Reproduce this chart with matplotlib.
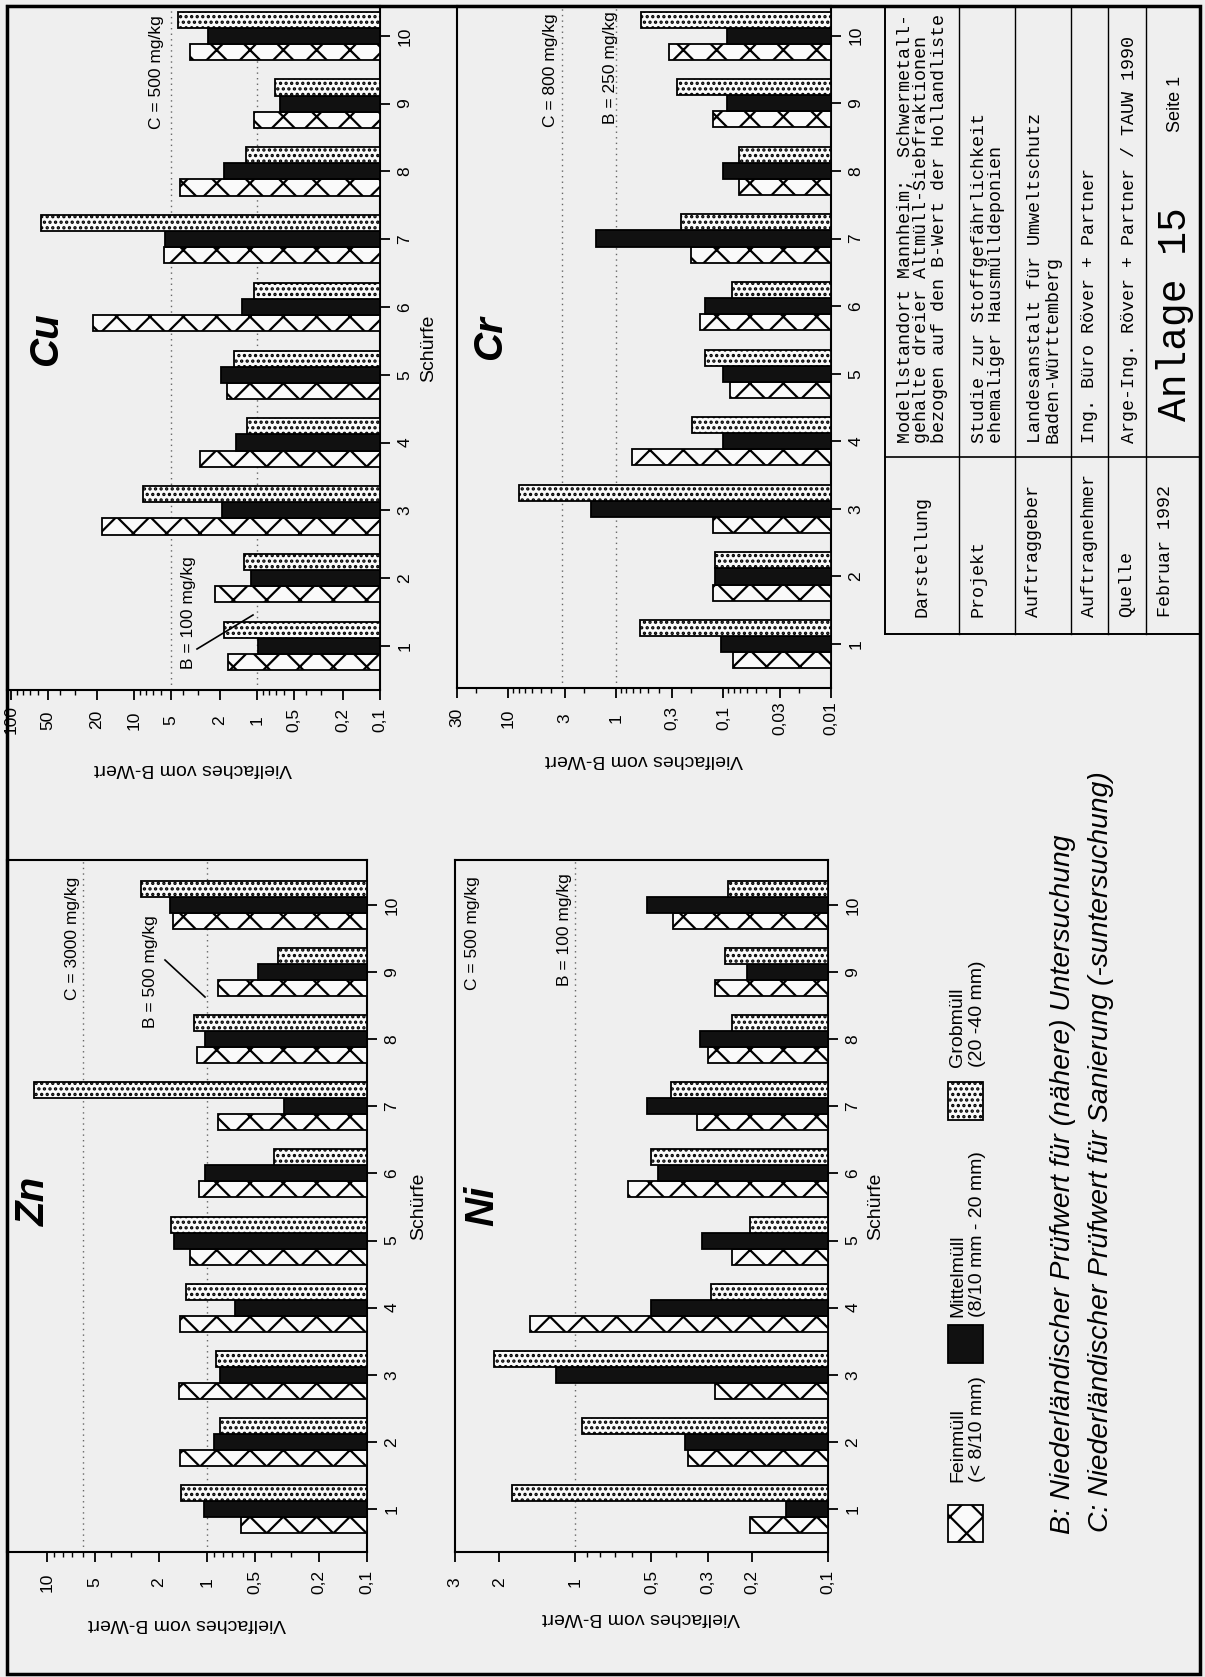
import matplotlib
matplotlib.use("Agg")
import matplotlib.pyplot as plt
import numpy as np
from matplotlib.patches import Rectangle
from matplotlib.lines import Line2D
from matplotlib.ticker import LogLocator, NullFormatter

W, H = 1205, 1677
plt.rcParams['font.family'] = ['Liberation Sans', 'DejaVu Sans']
plt.rcParams['hatch.linewidth'] = 1.6

# ---------------- data (Vielfaches vom B-Wert) ----------------
schuerfe = [1, 2, 3, 4, 5, 6, 7, 8, 9, 10]

zn_fein = [0.61, 1.47, 1.49, 1.47, 1.28, 1.13, 0.86, 1.16, 0.85, 1.64]
zn_mittel = [1.04, 0.90, 0.83, 0.67, 1.61, 1.03, 0.33, 1.03, 0.48, 1.71]
zn_grob = [1.45, 0.83, 0.88, 1.35, 1.68, 0.38, 12.0, 1.21, 0.36, 2.6]

ni_fein = [0.204, 0.36, 0.28, 1.52, 0.24, 0.62, 0.33, 0.30, 0.28, 0.41]
ni_mittel = [0.146, 0.37, 1.19, 0.50, 0.316, 0.47, 0.52, 0.32, 0.21, 0.52]
ni_grob = [1.78, 0.94, 2.11, 0.29, 0.204, 0.50, 0.42, 0.24, 0.256, 0.25]

cu_fein = [1.71, 2.2, 18.4, 2.9, 1.77, 21.6, 5.7, 4.2, 1.05, 3.5]
cu_mittel = [0.98, 1.11, 1.93, 1.48, 1.97, 1.33, 5.6, 1.84, 0.65, 2.5]
cu_grob = [1.84, 1.28, 8.4, 1.21, 1.54, 1.05, 57.0, 1.24, 0.71, 4.4]

cr_fein = [0.082, 0.124, 0.124, 0.71, 0.086, 0.166, 0.20, 0.072, 0.124, 0.32]
cr_mittel = [0.105, 0.119, 1.7, 0.10, 0.10, 0.147, 1.54, 0.10, 0.093, 0.093]
cr_grob = [0.60, 0.119, 7.9, 0.196, 0.147, 0.083, 0.25, 0.072, 0.27, 0.58]

# B- and C-Werte in mg/kg
zn_bc = (500, 3000)
ni_bc = (100, 500)
cu_bc = (100, 500)
cr_bc = (250, 800)

zn_ticks = [10, 5, 2, 1, 0.5, 0.2, 0.1]
ni_ticks = [3, 2, 1, 0.5, 0.3, 0.2, 0.1]
cu_ticks = [100, 50, 20, 10, 5, 2, 1, 0.5, 0.2, 0.1]
cr_ticks = [30, 10, 3, 1, 0.3, 0.1, 0.03, 0.01]

legend_labels = [("Feinmüll", "(< 8/10 mm)"),
                 ("Mittelmüll", "(8/10 mm - 20 mm)"),
                 ("Grobmüll", "(20 -40 mm)")]

table_labels = ["Darstellung", "Projekt", "Auftraggeber", "Auftragnehmer",
                "Quelle", "Februar 1992"]
table_lines = ["Modellstandort Mannheim;  Schwermetall-",
               "gehalte dreier Altmüll-Siebfraktionen",
               "bezogen auf den B-Wert der Hollandliste",
               "Studie zur Stoffgefährlichkeit",
               "ehemaliger Hausmülldeponien",
               "Landesanstalt für Umweltschutz",
               "Baden-Württemberg",
               "Ing. Büro Röver + Partner",
               "Arge-Ing. Röver + Partner / TAUW 1990"]

# ---------------- figure ----------------
BG = '#efefef'
fig = plt.figure(figsize=(W / 100, H / 100), dpi=100)
fig.patch.set_facecolor(BG)


def px(x, y):
    return x / W, 1 - y / H


def box(x0, y0, x1, y1):
    return [x0 / W, 1 - y1 / H, (x1 - x0) / W, (y1 - y0) / H]


def ftext(x, y, s, **kw):
    fig.text(*px(x, y), s, **kw)


def fline(p0, p1, lw=1.2):
    fig.add_artist(Line2D([p0[0] / W, p1[0] / W], [1 - p0[1] / H, 1 - p1[1] / H],
                          transform=fig.transFigure, color='black', lw=lw))


styles = [dict(facecolor='#fafafa', edgecolor='black', hatch='x', linewidth=1.3),
          dict(facecolor='#111111', edgecolor='black', linewidth=1.3),
          dict(facecolor='#fafafa', edgecolor='black', hatch='...', linewidth=1.3)]


def fmt(v):
    return ('%g' % v).replace('.', ',')


def panel(rect, fein, mittel, grob, xmax, xmin, ticks, ylim, bc, xlab_off, schurfe_off):
    ax = fig.add_axes(rect)
    ax.patch.set_alpha(0)
    ax.set_xscale('log')
    y = np.array(schuerfe, dtype=float)
    h = 0.238
    for off, vals, st in zip([-h, 0, h], [fein, mittel, grob], styles):
        vals = np.array(vals)
        ax.barh(y + off, vals - xmin, left=xmin, height=h, zorder=3, **st)
    b, c = bc
    ax.axvline(1, color='0.4', lw=1.0, ls=(0, (1, 3)), zorder=1)
    ax.axvline(c / b, color='0.4', lw=1.0, ls=(0, (1, 3)), zorder=1)
    ax.set_xlim(xmax, xmin)
    ax.set_ylim(*ylim)

    ax.set_xticks(ticks)
    ax.set_xticklabels([fmt(t) for t in ticks], rotation=90, va='center', ha='center')
    ax.xaxis.set_minor_locator(LogLocator(base=10, subs=np.arange(2, 10)))
    ax.xaxis.set_minor_formatter(NullFormatter())
    ax.tick_params(axis='x', which='major', length=7, width=1.3, pad=14.5, labelsize=12.5)
    ax.tick_params(axis='x', which='minor', length=3.5, width=1.0)

    ax.yaxis.tick_right()
    ax.set_yticks(schuerfe)
    ax.set_yticklabels([str(s) for s in schuerfe], rotation=90, va='center', ha='center')
    ax.tick_params(axis='y', length=7, width=1.3, pad=11, labelsize=12.5)

    for sp in ax.spines.values():
        sp.set_linewidth(1.5)

    ax.set_xlabel('Vielfaches vom B-Wert', rotation=180, fontsize=14, va='center')
    ax.xaxis.set_label_coords(0.5, -xlab_off)
    if schurfe_off is not None:
        ax.yaxis.set_label_position('right')
        ax.set_ylabel('Schürfe', rotation=90, fontsize=14, va='center')
        ax.yaxis.set_label_coords(1 + schurfe_off, 0.5)
    return ax


panel(box(7, 860, 367, 1552), zn_fein, zn_mittel, zn_grob, 17.8, 0.1, zn_ticks,
      (0.36, 10.67), zn_bc, 0.104, 0.144)
panel(box(455, 860, 828, 1552), ni_fein, ni_mittel, ni_grob, 3.0, 0.1, ni_ticks,
      (0.36, 10.67), ni_bc, 0.094, 0.129)
panel(box(7, 6, 380, 690), cu_fein, cu_mittel, cu_grob, 108, 0.1, cu_ticks,
      (0.35, 10.44), cu_bc, 0.115, 0.131)
panel(box(457, 6, 831, 688), cr_fein, cr_mittel, cr_grob, 30, 0.01, cr_ticks,
      (0.35, 10.44), cr_bc, 0.105, None)

# element titles
title_kw = dict(rotation=90, fontsize=29, fontweight='bold', fontstyle='italic',
                ha='center', va='center')
ftext(34, 1201, 'Zn', **title_kw)
ftext(482, 1206, 'Ni', **title_kw)
ftext(46, 339, 'Cu', **title_kw)
ftext(490, 338, 'Cr', **title_kw)

# B / C annotations
ann_kw = dict(rotation=90, fontsize=12.5, ha='center', va='center')
ftext(72, 938, 'C = %d mg/kg' % zn_bc[1], **ann_kw)
ftext(151, 972, 'B = %d mg/kg' % zn_bc[0], **ann_kw)
fline((165, 960), (205, 997))
ftext(473, 933, 'C = %d mg/kg' % ni_bc[1], **ann_kw)
ftext(564, 930, 'B = %d mg/kg' % ni_bc[0], **ann_kw)
ftext(156, 72, 'C = %d mg/kg' % cu_bc[1], **ann_kw)
ftext(188, 613, 'B = %d mg/kg' % cu_bc[0], **ann_kw)
fline((197, 649), (253, 615))
ftext(551, 70, 'C = %d mg/kg' % cr_bc[1], **ann_kw)
ftext(611, 68, 'B = %d mg/kg' % cr_bc[0], **ann_kw)

# legend
sw_y = [(1505, 1542), (1325, 1363), (1082, 1120)]
txt_y = [1482, 1317, 1067]
for (y0, y1), ty, st, (l1, l2) in zip(sw_y, txt_y, styles, legend_labels):
    r = Rectangle(px(948, y1), 35 / W, (y1 - y0) / H, transform=fig.transFigure, **st)
    fig.add_artist(r)
    ftext(958, ty, l1, rotation=90, fontsize=14, ha='center', va='bottom')
    ftext(978, ty, l2, rotation=90, fontsize=14, ha='center', va='bottom')

# notes
note_kw = dict(rotation=90, fontsize=20.3, fontstyle='italic', ha='center', va='bottom')
ftext(1063, 1534, 'B: Niederländischer Prüfwert für (nähere) Untersuchung', **note_kw)
ftext(1101, 1532, 'C: Niederländischer Prüfwert für Sanierung (-suntersuchung)', **note_kw)

# title block
fline((885, 6), (885, 634), lw=1.4)
fline((885, 634), (1200, 634), lw=1.4)
fline((885, 457), (1200, 457), lw=1.2)
for xr in [959, 1015, 1071, 1108, 1146]:
    fline((xr, 6), (xr, 634), lw=1.0)

mono = dict(rotation=90, fontsize=13.2, family=['Liberation Mono', 'DejaVu Sans Mono'],
            ha='center', va='bottom')
for xl, s in zip([922, 978, 1034, 1090, 1127, 1165], table_labels):
    ftext(xl, 617, s, **mono)
for xl, s in zip([905, 922, 940, 980, 997, 1036, 1053, 1090, 1129], table_lines):
    ftext(xl, 443, s, **mono)
ftext(1175, 314, 'Anlage 15', rotation=90, fontsize=28.5,
      family=['Liberation Mono', 'DejaVu Sans Mono'], ha='center', va='center')
ftext(1176, 104, 'Seite 1', rotation=90, fontsize=13, ha='center', va='center')

# page frame
fig.add_artist(Rectangle(px(7, 1674), (1200 - 7) / W, (1674 - 6) / H,
                         transform=fig.transFigure, fill=False, lw=2.5, edgecolor='black'))

fig.savefig('out.png', dpi=100, facecolor=BG)
